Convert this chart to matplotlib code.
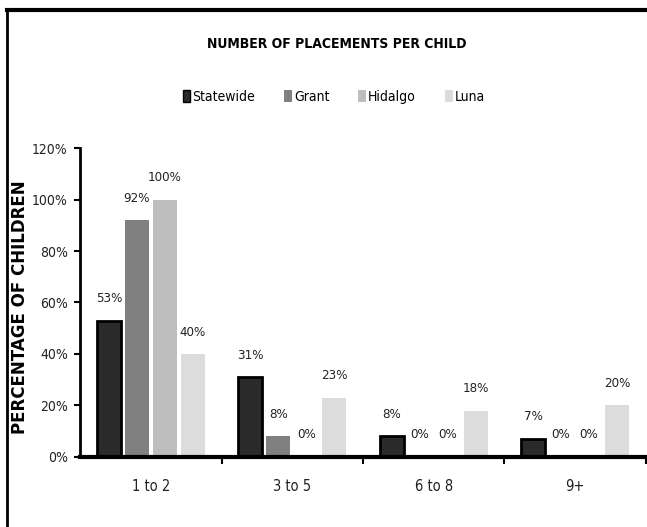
import matplotlib
matplotlib.use("Agg")
import matplotlib.pyplot as plt
import numpy as np
from matplotlib.lines import Line2D
from matplotlib.patches import Patch

plt.rcParams['font.family'] = ['DejaVu Sans']
plt.rcParams['font.stretch'] = 'condensed'

categories = ["1 to 2", "3 to 5", "6 to 8", "9+"]
series = ["Statewide", "Grant", "Hidalgo", "Luna"]
statewide = [53, 31, 8, 7]
grant = [92, 8, 0, 0]
hidalgo = [100, 0, 0, 0]
luna = [40, 23, 18, 20]
colors = ["#2a2a2a", "#808080", "#bdbdbd", "#dcdcdc"]

fig = plt.figure(figsize=(6.47, 5.27), dpi=100)
ax = fig.add_axes([0.124, 0.133, 0.874, 0.586])

x = np.arange(len(categories))
step = 0.198
width = 0.17
data = [statewide, grant, hidalgo, luna]
for i, (name, vals) in enumerate(zip(series, data)):
    pos = x + (i - 1.5) * step
    if i == 0:
        ax.bar(pos, vals, width, color=colors[i], edgecolor="black", linewidth=2, label=name)
    else:
        ax.bar(pos, vals, width, color=colors[i], label=name)
    for p, v in zip(pos, vals):
        ax.text(p, v + 6, "%d%%" % v, ha="center", va="bottom", fontsize=9.5, color="#222222")

ax.set_xlim(-0.5, 3.5)
ax.set_ylim(0, 120)
ax.set_yticks(range(0, 121, 20))
ax.set_yticklabels(["%d%%" % t for t in range(0, 121, 20)], fontsize=10, color="#222222")
ax.set_xticks(x)
ax.set_xticklabels(categories, fontsize=10.5, color="#222222")
ax.tick_params(axis="x", length=0, pad=16)
ax.set_xticks(np.arange(0.5, 3.6, 1), minor=True)
ax.tick_params(axis="x", which="minor", length=5, width=1.5, direction="out")
ax.tick_params(axis="y", length=4, width=1.5, direction="out", pad=5)
for s in ["top", "right"]:
    ax.spines[s].set_visible(False)
ax.spines["left"].set_linewidth(2)
ax.spines["bottom"].set_linewidth(3)

ax.set_ylabel("PERCENTAGE OF CHILDREN", fontsize=12, fontweight="bold",
              fontstretch="normal")
ax.yaxis.set_label_coords(-0.09, 0.484)

fig.text(0.521, 0.916, "NUMBER OF PLACEMENTS PER CHILD", ha="center", va="center",
         fontsize=10, fontweight="bold")

handles = [Patch(facecolor=colors[0], edgecolor="black", linewidth=1)] + \
          [Patch(facecolor=c) for c in colors[1:]]
fig.legend(handles, series, loc="center", bbox_to_anchor=(0.516, 0.816), ncol=4,
           frameon=False, fontsize=10, handlelength=0.55, handleheight=0.9,
           handletextpad=0.15, columnspacing=2.1)

# outer frame (top and left edges visible)
fig.add_artist(Line2D([0.011, 1.0], [0.981, 0.981], color="black", lw=3, transform=fig.transFigure))
fig.add_artist(Line2D([0.011, 0.011], [0.0, 0.981], color="black", lw=2, transform=fig.transFigure))

fig.savefig("out.png", dpi=100)
